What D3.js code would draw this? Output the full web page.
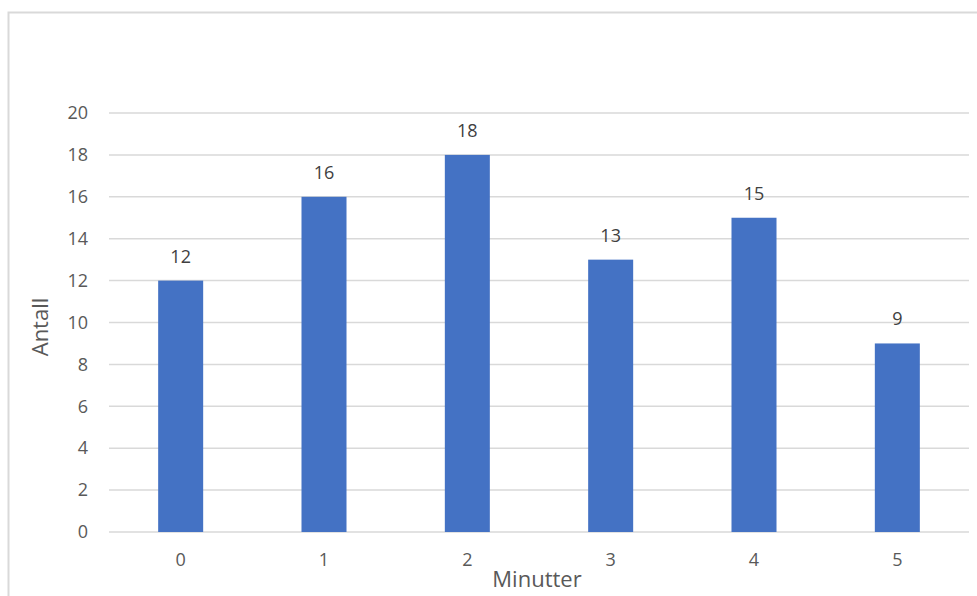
<!DOCTYPE html>
<html>
<head>
<meta charset="utf-8">
<script src="https://cdn.jsdelivr.net/npm/d3@7"></script>
<style>
  html, body { margin: 0; padding: 0; background: #fff; }
  svg { display: block; }
  text { font-family: "Open Sans", "Noto Sans", sans-serif; }
</style>
</head>
<body>
<svg id="chart" width="977" height="596"></svg>
<script>
// Minutes and how many fall in each
const categories = ["0", "1", "2", "3", "4", "5"];
const values = [12, 16, 18, 13, 15, 9];
const yTicks = [0, 2, 4, 6, 8, 10, 12, 14, 16, 18, 20];
const xTitle = "Minutter";
const yTitle = "Antall";

const W = 977, H = 596;
const plot = { left: 109, right: 969, top: 113, bottom: 532 };

const svg = d3.select("#chart");

// chart frame (top and left edges visible)
svg.append("path")
  .attr("d", `M8.5,${H} L8.5,12.5 L${W},12.5`)
  .attr("fill", "none")
  .attr("stroke", "#d9d9d9")
  .attr("stroke-width", 2);

const x = d3.scaleBand()
  .domain(categories)
  .range([plot.left, plot.right])
  .paddingInner(0.686)
  .paddingOuter(0.343);

const y = d3.scaleLinear()
  .domain([0, 20])
  .range([plot.bottom, plot.top]);

// gridlines
svg.append("g")
  .selectAll("line")
  .data(yTicks)
  .join("line")
  .attr("x1", plot.left)
  .attr("x2", plot.right)
  .attr("y1", d => y(d))
  .attr("y2", d => y(d))
  .attr("stroke", "#d9d9d9")
  .attr("stroke-width", 1.5);

// y axis labels
const yAxis = d3.axisLeft(y).tickValues(yTicks).tickSize(0).tickPadding(0);
svg.append("g")
  .attr("transform", `translate(88,0)`)
  .call(yAxis)
  .call(g => g.select(".domain").remove())
  .call(g => g.selectAll("text")
    .attr("fill", "#595959")
    .style("font-size", "18px")
    .style("font-family", "'Open Sans', sans-serif"));

// x axis labels
const xAxis = d3.axisBottom(x).tickSize(0).tickPadding(0);
svg.append("g")
  .attr("transform", `translate(0,${plot.bottom + 21})`)
  .call(xAxis)
  .call(g => g.select(".domain").remove())
  .call(g => g.selectAll("text")
    .attr("fill", "#595959")
    .style("font-size", "18px")
    .style("font-family", "'Open Sans', sans-serif"));

// bars
svg.append("g")
  .selectAll("rect")
  .data(values)
  .join("rect")
  .attr("x", (d, i) => x(categories[i]))
  .attr("width", x.bandwidth())
  .attr("y", d => y(d))
  .attr("height", d => y(0) - y(d))
  .attr("fill", "#4472c4");

// value labels
svg.append("g")
  .selectAll("text")
  .data(values)
  .join("text")
  .attr("x", (d, i) => x(categories[i]) + x.bandwidth() / 2)
  .attr("y", d => y(d) - 18)
  .attr("text-anchor", "middle")
  .attr("fill", "#404040")
  .style("font-size", "18px")
  .text(d => d);

// axis titles
svg.append("text")
  .attr("x", 537)
  .attr("y", 587)
  .attr("text-anchor", "middle")
  .attr("fill", "#595959")
  .style("font-size", "22px")
  .text(xTitle);

svg.append("text")
  .attr("transform", "translate(48,327) rotate(-90)")
  .attr("text-anchor", "middle")
  .attr("fill", "#595959")
  .style("font-size", "22px")
  .text(yTitle);
</script>
</body>
</html>
